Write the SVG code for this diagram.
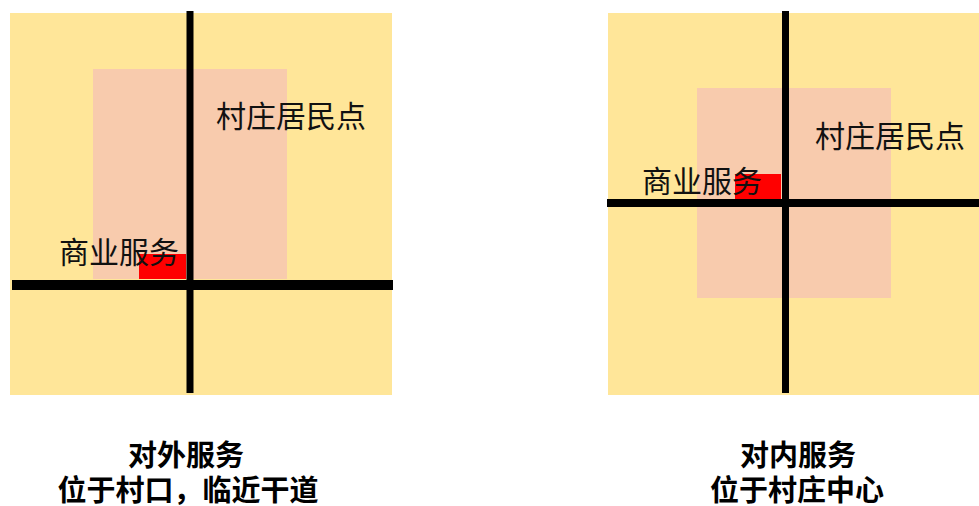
<svg xmlns="http://www.w3.org/2000/svg" width="979" height="506" viewBox="0 0 979 506">
<style>
.bg{fill:#FFE699}
.area{fill:#F8CBAD}
.shop{fill:#FF0000}
.road{stroke:#000;fill:none}
.lbl{font-family:"Noto Sans CJK SC","Noto Sans",sans-serif;font-size:30px;fill:#111}
.cap{font-family:"Noto Sans CJK SC","Noto Sans",sans-serif;font-size:29px;font-weight:bold;fill:#000;text-anchor:middle}
</style>
<rect width="979" height="506" fill="#fff"/>
<g id="panel-left">
<rect class="bg" x="10" y="13" width="382" height="382"/>
<rect class="area" x="93" y="69" width="194" height="210"/>
<rect class="shop" x="139" y="254" width="47" height="25"/>
</g>
<g id="panel-right">
<rect class="bg" x="608" y="13" width="371" height="382"/>
<rect class="area" x="697" y="88" width="194" height="210"/>
<rect class="shop" x="735" y="174" width="46" height="26"/>
</g>
<g id="connectors">
<line class="road" x1="190" y1="11" x2="190" y2="393" stroke-width="7"/>
<line class="road" x1="12" y1="285" x2="393" y2="285" stroke-width="10"/>
<line class="road" x1="785.5" y1="11" x2="785.5" y2="393" stroke-width="7"/>
<line class="road" x1="607" y1="203" x2="979" y2="203" stroke-width="8"/>
</g>
<g id="labels">
<text class="lbl" x="216" y="127">村庄居民点</text>
<text class="lbl" x="59" y="263">商业服务</text>
<text class="lbl" x="815" y="147">村庄居民点</text>
<text class="lbl" x="642" y="192">商业服务</text>
</g>
<g id="captions">
<text class="cap" x="186" y="466">对外服务</text>
<text class="cap" x="188" y="501">位于村口，临近干道</text>
<text class="cap" x="798" y="466">对内服务</text>
<text class="cap" x="797" y="501">位于村庄中心</text>
</g>
</svg>
